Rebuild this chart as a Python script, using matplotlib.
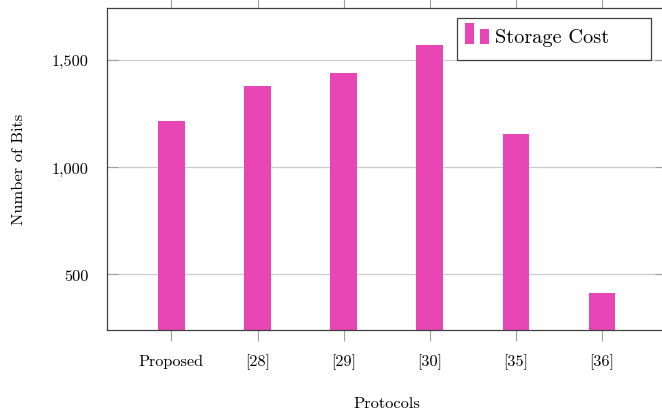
import numpy as np
import matplotlib
matplotlib.use('Agg')
import matplotlib.pyplot as plt
from matplotlib.patches import Rectangle
from matplotlib.legend_handler import HandlerBase
from matplotlib.ticker import FuncFormatter

plt.rcParams.update({
    'font.family': 'cmr10',
    'mathtext.fontset': 'cm',
    'axes.formatter.use_mathtext': True,
})

protocols = ['Proposed', '[28]', '[29]', '[30]', '[35]', '[36]']
storage_bits = [1216, 1376, 1440, 1568, 1152, 416]

bar_color = '#E846B4'
tick_gray = '#a0a0a0'
spine_color = '#404040'


class TwoBarHandler(HandlerBase):
    """ybar-style legend key: two thin bars, the second a bit shorter"""
    def create_artists(self, legend, orig_handle, xdescent, ydescent,
                       width, height, fontsize, trans):
        bw = width * 0.36
        y0 = -ydescent - 0.12 * height
        r1 = Rectangle((-xdescent, y0), bw, height * 1.48,
                       facecolor=bar_color, edgecolor='none', transform=trans)
        r2 = Rectangle((-xdescent + width - bw, y0), bw, height * 1.1,
                       facecolor=bar_color, edgecolor='none', transform=trans)
        return [r1, r2]


fig = plt.figure(figsize=(6.62, 4.14), dpi=100)
# right spine sits just past the figure edge
ax = fig.add_axes([0.1621, 0.2012, 0.844, 0.7778])

x = np.arange(len(protocols))
bars = ax.bar(x, storage_bits, width=0.308, color=bar_color, zorder=2, label='Storage Cost')

ax.set_xlim(-0.745, 5.745)
ax.set_ylim(243, 1742)
ax.set_yticks([500, 1000, 1500])
ax.yaxis.set_major_formatter(FuncFormatter(lambda v, p: f'{v:,.0f}'))
ax.set_xticks(x)
ax.set_xticklabels(protocols)

ax.grid(axis='y', color='#cccccc', linewidth=0.9, zorder=0)
ax.tick_params(axis='x', direction='out', length=8, width=0.8, color=tick_gray,
               top=True, labelsize=11.7, pad=9)
ax.tick_params(axis='y', direction='in', length=8, width=0.8, color=tick_gray,
               right=True, labelsize=11.7, pad=13.5)

for side in ['left', 'top', 'bottom']:
    ax.spines[side].set_color(spine_color)
    ax.spines[side].set_linewidth(0.9)
ax.spines['right'].set_visible(False)

ax.set_xlabel('Protocols', fontsize=11.8)
ax.set_ylabel('Number of Bits', fontsize=11.8)
ax.xaxis.set_label_coords(0.5, -(397 - 330.7) / 322)
ax.yaxis.set_label_coords(-(107.3 - 26) / 558.7, 0.5)

# legend box drawn on its own so its padding can be uneven
ax.add_patch(Rectangle((0.6265, 0.8376), 0.3472, 0.1295, transform=ax.transAxes,
                       facecolor='white', edgecolor=spine_color, linewidth=0.9,
                       zorder=4.9, clip_on=False))
leg = ax.legend(handles=[bars], labels=['Storage Cost'],
                handler_map={type(bars): TwoBarHandler()},
                loc='center left', bbox_to_anchor=(0.6402, 0.908),
                borderaxespad=0, borderpad=0, fontsize=14.6, frameon=False,
                handlelength=1.18, handleheight=0.7, handletextpad=0.3)

fig.savefig('out.png', dpi=100)
